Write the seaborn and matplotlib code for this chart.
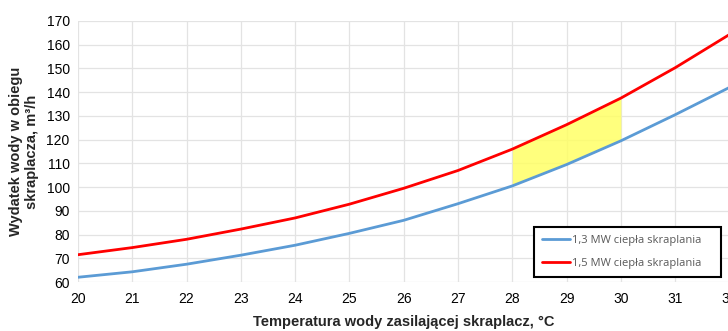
import matplotlib
matplotlib.use("Agg")
import matplotlib.pyplot as plt
import seaborn as sns
import pandas as pd

temps = [20, 21, 22, 23, 24, 25, 26, 27, 28, 29, 30, 31, 32]
flow_13 = [62, 64.3, 67.5, 71.3, 75.5, 80.5, 86, 93, 100.5, 109.5, 119.5, 130.5, 142]
flow_15 = [71.5, 74.5, 78, 82.3, 87, 92.8, 99.5, 107, 116, 126.3, 137.5, 150.3, 164.3]
labels = ["1,3 MW ciepła skraplania", "1,5 MW ciepła skraplania"]
shade_range = (28, 30)

sns.set_theme(style="whitegrid")
plt.rcParams['font.family'] = ['Liberation Sans', 'DejaVu Sans']

fig = plt.figure(figsize=(7.28, 3.31), dpi=100)
ax = fig.add_axes([78/728, 1-282/331, 1.0 - 78/728 + 0.002, (282-21)/331])

df = pd.DataFrame({"T": temps * 2,
                   "Q": flow_13 + flow_15,
                   "s": [labels[0]] * len(temps) + [labels[1]] * len(temps)})
sns.lineplot(data=df, x="T", y="Q", hue="s", palette=["#5B9BD5", "#FF0000"],
             linewidth=2, ax=ax, legend=True)

xs = [t for t in temps if shade_range[0] <= t <= shade_range[1]]
lo = [flow_13[temps.index(t)] for t in xs]
hi = [flow_15[temps.index(t)] for t in xs]
ax.fill_between(xs, lo, hi, color="#FFFF66", alpha=0.85, linewidth=0, zorder=1)

ax.set_xlim(20, 32)
ax.set_ylim(60, 170)
ax.set_xticks(range(20, 33))
ax.set_yticks(range(60, 171, 10))
ax.tick_params(axis="both", labelsize=10, colors="#000000", length=0)
ax.tick_params(axis="x", pad=7)
ax.tick_params(axis="y", pad=6)
ax.grid(True, color="#E3E3E3", linewidth=0.9)
for s in ax.spines.values():
    s.set_visible(False)
ax.set_facecolor("white")

ax.set_xlabel("Temperatura wody zasilającej skraplacz, °C", fontsize=10.5, fontweight="bold", labelpad=7)
ax.set_ylabel("Wydatek wody w obiegu\nskraplacza, m³/h", fontsize=10.5, fontweight="bold", labelpad=5)

leg = ax.legend(loc="lower left", bbox_to_anchor=(534/728, 1-277/331, (721-534)/728, 50/331),
                bbox_transform=fig.transFigure, mode="expand",
                frameon=True, fancybox=False, edgecolor="black", framealpha=1,
                handlelength=2.5, handletextpad=0.2, borderpad=0.7, labelspacing=1.1,
                borderaxespad=0,
                prop={"family": ["Open Sans", "DejaVu Sans"], "size": 8})
leg.get_frame().set_linewidth(1.5)
for t in leg.get_texts():
    t.set_color("#595959")

fig.savefig("out.png", dpi=100)
